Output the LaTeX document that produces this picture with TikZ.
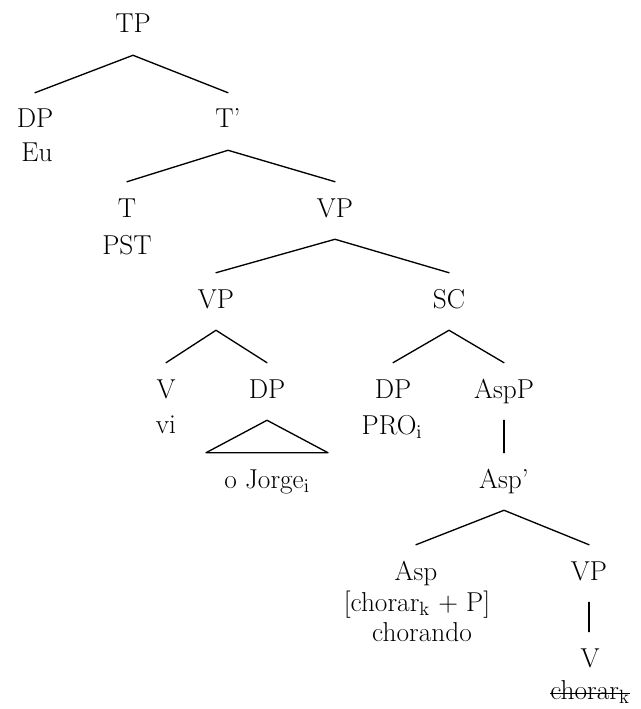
\documentclass[tikz,border=0pt]{standalone}
\begin{document}
\begin{tikzpicture}[x=0.75pt,y=-0.75pt,
  cat/.style={anchor=base, inner sep=0pt, text height=26.25pt, text depth=16.5pt, font=\fontsize{20.5}{24}\selectfont},
  lex/.style={anchor=base, inner sep=0pt, font=\fontsize{20.5}{24}\selectfont},
  edge/.style={line width=1pt, line cap=round, line join=round}]
\useasboundingbox (0,0) rectangle (641,709);
% nodes
\node[cat] (TP) at (133,33) {TP};
\node[cat] (DP1) at (35,128) {DP};
\node[lex] (Eu) at (37,162) {Eu};
\node[cat] (Tbar) at (228,128) {T'};
\node[cat] (T) at (127,217) {T};
\node[lex] (PST) at (127,254) {PST};
\node[cat] (VP1) at (335,217) {VP};
\node[cat] (VP2) at (216,308) {VP};
\node[cat] (SC) at (449,308) {SC};
\node[cat] (V1) at (166,398) {V};
\node[lex] (vi) at (166,433) {vi};
\node[cat] (DP2) at (267,398) {DP};
\node[cat] (jorge) at (267,488) {o Jorge$_\mathrm{i}$};
\node[cat] (DP3) at (393,398) {DP};
\node[lex] (PRO) at (392,434) {PRO$_\mathrm{i}$};
\node[cat] (AspP) at (504,398) {AspP};
\node[cat] (Aspbar) at (504,488) {Asp'};
\node[cat] (Asp) at (416,580) {Asp};
\node[lex] (feat) at (417,611) {[chorar$_\mathrm{k}$ + P]};
\node[lex] (chorando) at (422,641) {chorando};
\node[cat] (VP3) at (589,580) {VP};
\node[cat] (V2) at (590,667) {V};
\node[lex] (chorar) at (590,699) {chorar$_\mathrm{k}$};
% edges
\draw[edge] (DP1.north) -- (TP.south) -- (Tbar.north);
\draw[edge] (T.north) -- (Tbar.south) -- (VP1.north);
\draw[edge] (VP2.north) -- (VP1.south) -- (SC.north);
\draw[edge] (V1.north) -- (VP2.south) -- (DP2.north);
\draw[edge] (DP3.north) -- (SC.south) -- (AspP.north);
\draw[edge] (AspP.south) -- (AspP.south |- Aspbar.north);
\draw[edge] (Asp.north) -- (Aspbar.south) -- (VP3.north);
\draw[edge] (VP3.south) -- (VP3.south |- V2.north);
\draw[edge] (DP2.south) -- ([xshift=-45.75pt]jorge.north) -- ([xshift=45.75pt]jorge.north) -- cycle;
\draw[line width=0.8pt] ([yshift=4.4pt]chorar.base west) -- ([yshift=4.4pt]chorar.base east);
\end{tikzpicture}
\end{document}
